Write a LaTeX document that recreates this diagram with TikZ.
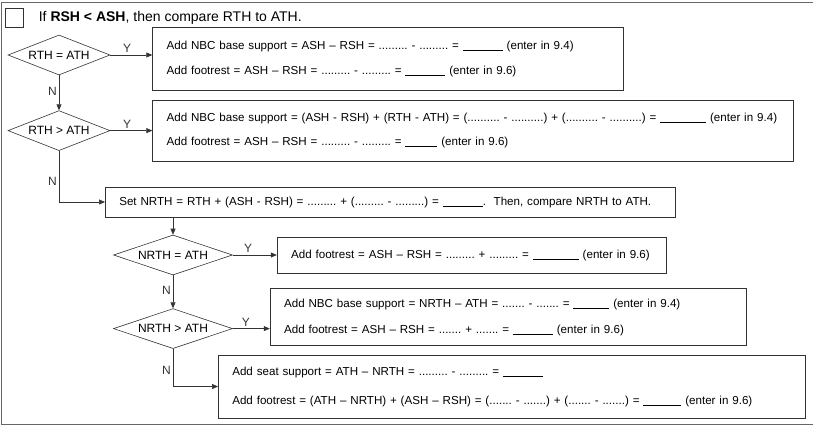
\documentclass[tikz,border=0pt]{standalone}
\usepackage{fontspec}
\setmainfont{Liberation Sans}
\usetikzlibrary{arrows.meta, positioning, shapes.geometric}

\frenchspacing
\newcommand{\blank}[1]{\rule[-1.5pt]{#1}{0.7pt}}
\newcommand{\xldots}{..........}
\newcommand{\lgdots}{.........}
\newcommand{\mddots}{........}
\newcommand{\shdots}{.......}

\begin{document}
\begin{tikzpicture}[
    x=1pt, y=-1pt,
    box/.style={draw=black!80, semithick, anchor=west, align=left,
                inner xsep=14pt, font=\fontsize{11.6}{14}\selectfont},
    dec/.style={draw=black!80, semithick, diamond, aspect=2.55, inner sep=0pt,
                minimum width=102pt, minimum height=40pt,
                font=\fontsize{12}{14}\selectfont},
    arr/.style={-{Triangle[length=6pt,width=5pt]}, semithick, black!80},
    lbl/.style={font=\fontsize{12}{14}\selectfont, inner sep=2pt},
    frame/.style={draw=black!60, thin}
  ]
  \useasboundingbox (0,0) rectangle (814,432);
  \draw[frame] (813,2) -- (1,2) -- (1,424) -- (813,424);

  % heading
  \node[draw=black!80, semithick, minimum width=18pt, minimum height=19pt] (chk) at (14,17.5) {};
  \node[right=12pt of chk, font=\fontsize{14}{17}\selectfont] (title)
    {If \textbf{RSH < ASH}, then compare RTH to ATH.};

  % first comparison
  \node[dec] (d1) at (59,55) {RTH = ATH};
  \node[dec, below=35pt of d1] (d2) {RTH > ATH};
  \node[box, text width=443pt, minimum height=63pt, right=42pt of d1, yshift=-3.5pt] (b1)
    {Add NBC base support = ASH – RSH = \lgdots{} - \lgdots{} = \blank{40pt} (enter in 9.4)\\[11pt]
     Add footrest = ASH – RSH = \lgdots{} - \lgdots{} = \blank{40pt} (enter in 9.6)};
  \node[box, text width=613pt, minimum height=61pt, right=42pt of d2] (b2)
    {Add NBC base support = (ASH - RSH) + (RTH - ATH) = (\xldots{} - \xldots) + (\xldots{} - \xldots) = \blank{46pt} (enter in 9.4)\\[10pt]
     Add footrest = ASH – RSH = \lgdots{} - \lgdots{} = \blank{32pt} (enter in 9.6)};
  \node[box, text width=542pt, minimum height=30pt] (b3) at (105,202)
    {Set NRTH = RTH + (ASH - RSH) = \lgdots{} + (\lgdots{} - \lgdots) = \blank{40pt}.\ \ Then, compare NRTH to ATH.};

  % second comparison
  \node[dec, minimum width=119pt] (d3) at (173,255) {NRTH = ATH};
  \node[dec, minimum width=119pt, below=33pt of d3] (d4) {NRTH > ATH};
  \node[box, text width=361pt, minimum height=36pt, right=44pt of d3] (b4)
    {Add footrest = ASH – RSH = \lgdots{} + \lgdots{} = \blank{46pt} (enter in 9.6)};
  \node[box, text width=448pt, minimum height=57pt, right=37pt of d4, yshift=11.5pt] (b5)
    {Add NBC base support = NRTH – ATH = \shdots{} - \shdots{} = \blank{36pt} (enter in 9.4)\\[12pt]
     Add footrest = ASH – RSH = \shdots{} + \shdots{} = \blank{40pt} (enter in 9.6)};
  \node[box, text width=559pt, minimum height=63pt] (b6) at (218,386.5)
    {Add seat support = ATH – NRTH = \lgdots{} - \lgdots{} = \blank{40pt}\\[15pt]
     Add footrest = (ATH – NRTH) + (ASH – RSH) = (\shdots{} - \shdots) + (\shdots{} - \shdots) = \blank{38pt} (enter in 9.6)};

  % connectors
  \draw[arr] (d1.east) -- node[lbl, above, pos=0.4]{Y} (d1.east -| b1.west);
  \draw[arr] (d1.south) -- node[lbl, left, pos=0.45]{N} (d2.north);
  \draw[arr] (d2.east) -- node[lbl, above, pos=0.4]{Y} (b2.west);
  \draw[arr] (d2.south) |- node[lbl, left, pos=0.3]{N} (b3.west);
  \draw[arr] (b3.south -| d3.north) -- (d3.north);
  \draw[arr] (d3.east) -- node[lbl, above, pos=0.35]{Y} (b4.west);
  \draw[arr] (d3.south) -- node[lbl, left, pos=0.45]{N} (d4.north);
  \draw[arr] (d4.east) -- node[lbl, above, pos=0.35]{Y} (d4.east -| b5.west);
  \draw[arr] (d4.south) |- node[lbl, left, pos=0.28]{N} (b6.west);
\end{tikzpicture}
\end{document}
